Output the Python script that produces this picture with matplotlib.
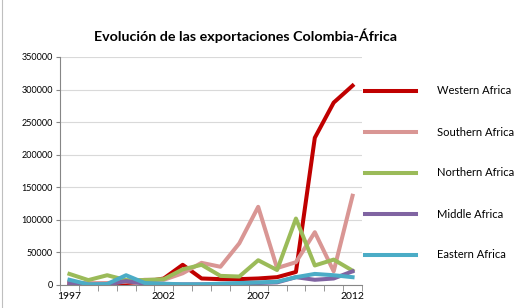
import matplotlib.pyplot as plt
import numpy as np

# Datos
years = list(range(1997, 2013))
western = [3000, 2000, 2000, 3000, 5000, 10000, 31000, 10000, 9000, 9000, 10000, 12000, 20000, 226000, 280000, 306000]
southern = [4000, 2000, 3000, 5000, 8000, 8000, 18000, 34000, 28000, 64000, 120000, 26000, 35000, 81000, 21000, 137000]
northern = [17000, 7500, 15000, 7500, 7500, 9000, 24000, 31000, 14000, 13000, 38000, 23000, 102000, 30000, 39000, 22000]
middle = [2500, 500, 1000, 6000, 2000, 1000, 1000, 1000, 1500, 2000, 3000, 4000, 12000, 8000, 10000, 21000]
eastern = [8000, 1000, 1500, 15000, 3000, 2000, 1000, 1000, 2000, 3000, 4000, 5000, 12000, 17000, 15000, 12000]

series = [
    ('Western Africa', western, '#C00000'),
    ('Southern Africa', southern, '#D99694'),
    ('Northern Africa', northern, '#9BBB59'),
    ('Middle Africa', middle, '#8064A2'),
    ('Eastern Africa', eastern, '#4BACC6'),
]

plt.rcParams['font.family'] = ['Lato', 'DejaVu Sans']

fig = plt.figure(figsize=(5.25, 3.08), dpi=100)
ax = fig.add_axes([60 / 525, 1 - 285 / 308, 302 / 525, 228 / 308])

x = np.arange(len(years))
for name, vals, color in series:
    ax.plot(x, vals, color=color, lw=2.9, label=name, solid_joinstyle='round')

ax.set_xlim(-0.5, len(years) - 0.5)
ax.set_ylim(0, 350000)
ax.set_yticks(range(0, 350001, 50000))
ax.set_yticklabels([str(v) for v in range(0, 350001, 50000)], fontsize=6.5)
ax.yaxis.grid(True, color='#D9D9D9', lw=0.8)
ax.set_axisbelow(True)

ax.set_xticks([0, 5, 10, 15])
ax.set_xticklabels([str(years[i]) for i in [0, 5, 10, 15]], fontsize=7.5)
ax.set_xticks(np.arange(-0.5, len(years), 1), minor=True)
ax.tick_params(axis='x', which='major', length=0, pad=5)
ax.tick_params(axis='x', which='minor', length=4, color='#868686')
ax.tick_params(axis='y', length=3, color='#868686', pad=2)

for s in ['top', 'right']:
    ax.spines[s].set_visible(False)
for s in ['left', 'bottom']:
    ax.spines[s].set_color('#868686')
    ax.spines[s].set_linewidth(0.8)

fig.text(246 / 525, 1 - 36 / 308, 'Evolución de las exportaciones Colombia-África',
         ha='center', va='center', fontsize=10.3, fontweight='bold')

# Leyenda
leg_y = [91, 132, 173, 214, 255]
for (name, vals, color), yy in zip(series, leg_y):
    fy = 1 - yy / 308
    fig.add_artist(plt.Line2D([365 / 525, 416 / 525], [fy, fy], color=color, lw=2.9,
                              transform=fig.transFigure))
    fig.text(437 / 525, fy, name, va='center', fontsize=8)

fig.add_artist(plt.Rectangle((2 / 525, -0.01), 1, 1.02, fill=False, edgecolor='#BFBFBF',
                             lw=0.8, transform=fig.transFigure))

fig.savefig('out.png', dpi=100)
